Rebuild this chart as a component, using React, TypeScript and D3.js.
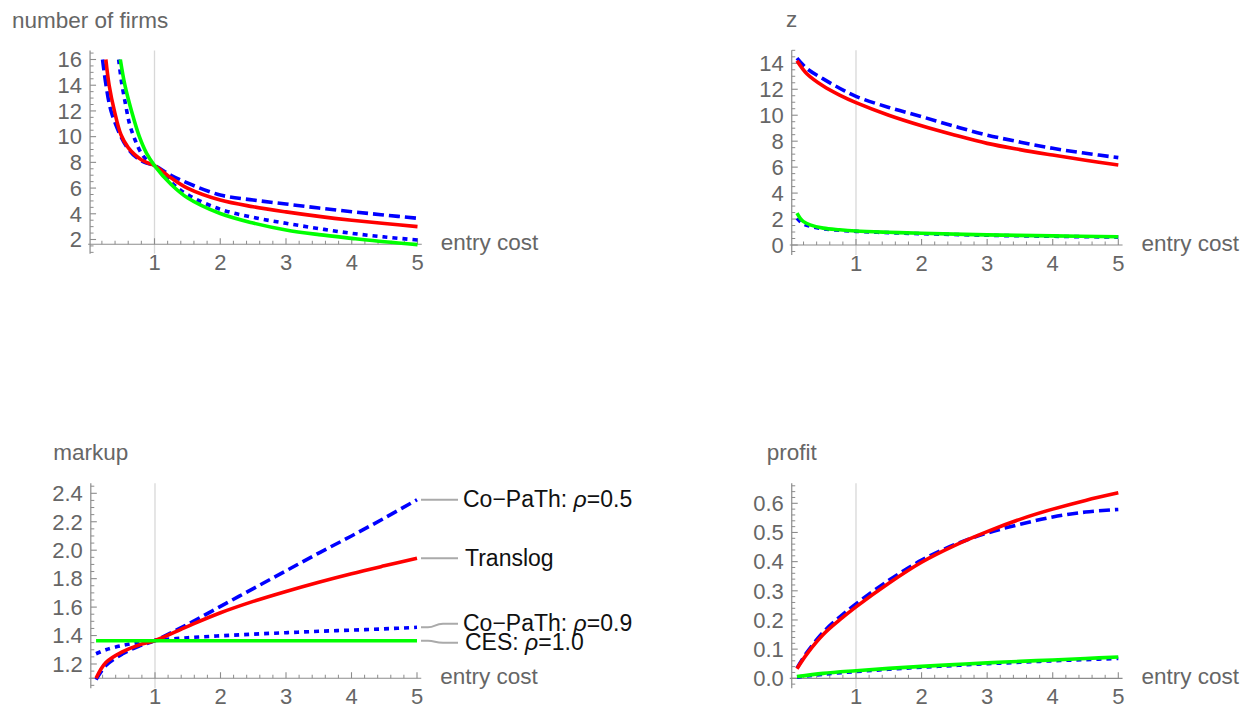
import React from "react";
import * as d3 from "d3";

type Pt = [number, number];

// ---------- data ----------
const entryCostTicks = [1, 2, 3, 4, 5];

// number of firms
const firmsCoPaTh05: Pt[] = [[0.21,16],[0.263,14],[0.339,12],[0.49,10.0],[0.6,9.05],[0.72,8.4],[0.85,8.0],[1,7.75],[1.25,7.0],[1.5,6.4],[2,5.46],[2.5,5.07],[3,4.76],[3.5,4.45],[4,4.16],[4.5,3.9],[5,3.65]];
const firmsTranslog: Pt[] = [[0.26,16],[0.31,14],[0.39,12],[0.49,10.15],[0.6,9.15],[0.7,8.6],[0.8,8.2],[0.9,7.95],[1,7.75],[1.25,6.8],[1.5,6.0],[2,5.07],[2.5,4.55],[3,4.15],[3.5,3.8],[4,3.5],[4.5,3.24],[5,3.0]];
const firmsCoPaTh09: Pt[] = [[0.455,16],[0.5,14.2],[0.56,12.5],[0.62,11],[0.7,9.8],[0.8,8.7],[0.9,8.1],[1,7.75],[1.25,6.45],[1.5,5.5],[2,4.35],[2.5,3.72],[3,3.26],[3.5,2.85],[4,2.48],[4.5,2.2],[5,1.96]];
const firmsCES: Pt[] = [[0.48,16],[0.55,14],[0.65,12],[0.77,10],[0.88,8.7],[1,7.75],[1.25,6.3],[1.5,5.25],[2,4.02],[2.5,3.28],[3,2.74],[3.5,2.38],[4,2.09],[4.5,1.82],[5,1.6]];

// z
const zCoPaTh05: Pt[] = [[0.1,14.4],[0.25,13.6],[0.5,12.8],[0.75,12.08],[1,11.45],[1.5,10.6],[2,9.89],[2.5,9.15],[3,8.47],[3.5,7.93],[4,7.45],[4.5,7.07],[5,6.73]];
const zTranslog: Pt[] = [[0.1,14.2],[0.25,13.2],[0.5,12.25],[0.75,11.55],[1,10.97],[1.5,10.0],[2,9.19],[2.5,8.48],[3,7.83],[3.5,7.35],[4,6.93],[4.5,6.53],[5,6.16]];
const zCoPaTh09: Pt[] = [[0.1,2.05],[0.15,1.8],[0.2,1.62],[0.3,1.45],[0.5,1.25],[0.75,1.13],[1,1.05],[1.5,0.95],[2,0.87],[3,0.75],[4,0.67],[5,0.61]];
const zCES: Pt[] = [[0.1,2.45],[0.15,2.05],[0.2,1.8],[0.3,1.55],[0.5,1.3],[0.75,1.17],[1,1.08],[1.5,0.98],[2,0.9],[3,0.78],[4,0.7],[5,0.64]];

// markup
const markupCoPaTh05: Pt[] = [[0.1,1.09],[0.25,1.19],[0.5,1.27],[0.75,1.325],[1,1.365],[1.5,1.48],[2,1.605],[2.5,1.73],[3,1.855],[3.5,1.98],[4,2.1],[4.5,2.225],[5,2.355]];
const markupTranslog: Pt[] = [[0.1,1.1],[0.25,1.21],[0.5,1.285],[0.75,1.333],[1,1.365],[1.5,1.465],[2,1.56],[2.5,1.64],[3,1.71],[3.5,1.775],[4,1.835],[4.5,1.89],[5,1.943]];
const markupCoPaTh09: Pt[] = [[0.1,1.272],[0.25,1.3],[0.5,1.33],[0.75,1.35],[1,1.365],[1.5,1.385],[2,1.398],[2.5,1.41],[3,1.42],[3.5,1.43],[4,1.438],[4.5,1.447],[5,1.458]];
const markupCES: Pt[] = [[0.1,1.363],[1,1.363],[2,1.363],[3,1.363],[4,1.363],[5,1.363]];

// profit
const profitCoPaTh05: Pt[] = [[0.1,0.035],[0.25,0.088],[0.5,0.158],[0.75,0.21],[1,0.255],[1.5,0.336],[2,0.405],[2.5,0.458],[3,0.498],[3.5,0.528],[4,0.553],[4.5,0.57],[5,0.579]];
const profitTranslog: Pt[] = [[0.1,0.033],[0.25,0.083],[0.5,0.15],[0.75,0.2],[1,0.245],[1.5,0.326],[2,0.398],[2.5,0.455],[3,0.503],[3.5,0.545],[4,0.58],[4.5,0.61],[5,0.636]];
const profitCoPaTh09: Pt[] = [[0.1,0.004],[0.5,0.014],[1,0.023],[1.5,0.031],[2,0.038],[2.5,0.044],[3,0.05],[3.5,0.055],[4,0.06],[4.5,0.064],[5,0.068]];
const profitCES: Pt[] = [[0.1,0.006],[0.5,0.017],[1,0.026],[1.5,0.034],[2,0.041],[2.5,0.047],[3,0.053],[3.5,0.058],[4,0.063],[4.5,0.068],[5,0.073]];

const legendLabels = ["Co\u2212PaTh: ", "Translog", "Co\u2212PaTh: ", "CES: "];
const legendRho = ["0.5", "", "0.9", "1.0"];

// ---------- styles ----------
const RED = "#ff0000";
const BLUE = "#0000ff";
const GREEN = "#00ff00";
const DASH = "11,5";
const DOT = "5,5";
const FONT = "'Liberation Sans', Arial, sans-serif";
const AXIS = "#8c8c8c";
const LABEL = "#666666";
const TICK_FS = 22;
const TITLE_FS = 22.5;
const LEGEND_FS = 23;

type Series = { data: Pt[]; color: string; dash?: string };

interface Panel {
  title: string;
  x1: number; x5: number; // pixel positions of x=1 and x=5
  yDom: [number, number]; yPix: [number, number];
  yExt: [number, number];
  xAxisAt: number;
  major: number; minor: number; decimals: number;
  series: Series[];
  legend?: boolean;
}

const panels: Panel[] = [
  {
    title: "number of firms", x1: 154.5, x5: 417.5,
    yDom: [2, 16], yPix: [239.5, 59.5], yExt: [0.9, 16.7], xAxisAt: 1.63,
    major: 2, minor: 0.5, decimals: 0,
    series: [
      { data: firmsCoPaTh05, color: BLUE, dash: DASH },
      { data: firmsCoPaTh09, color: BLUE, dash: DOT },
      { data: firmsTranslog, color: RED },
      { data: firmsCES, color: GREEN },
    ],
  },
  {
    title: "z", x1: 856, x5: 1118.3,
    yDom: [0, 14], yPix: [245, 63.3], yExt: [-0.77, 15.0], xAxisAt: 0,
    major: 2, minor: 0.5, decimals: 0,
    series: [
      { data: zCoPaTh05, color: BLUE, dash: DASH },
      { data: zCoPaTh09, color: BLUE, dash: DOT },
      { data: zTranslog, color: RED },
      { data: zCES, color: GREEN },
    ],
  },
  {
    title: "markup", x1: 155, x5: 417,
    yDom: [1.2, 2.4], yPix: [664, 493.3], yExt: [1.03, 2.47], xAxisAt: 1.1,
    major: 0.2, minor: 0.05, decimals: 1,
    series: [
      { data: markupCoPaTh05, color: BLUE, dash: DASH },
      { data: markupCoPaTh09, color: BLUE, dash: DOT },
      { data: markupTranslog, color: RED },
      { data: markupCES, color: GREEN },
    ],
    legend: true,
  },
  {
    title: "profit", x1: 856, x5: 1118.3,
    yDom: [0, 0.6], yPix: [678.3, 503.3], yExt: [-0.034, 0.669], xAxisAt: 0,
    major: 0.1, minor: 0.02, decimals: 1,
    series: [
      { data: profitCoPaTh05, color: BLUE, dash: DASH },
      { data: profitCoPaTh09, color: BLUE, dash: DOT },
      { data: profitTranslog, color: RED },
      { data: profitCES, color: GREEN },
    ],
  },
];

const X_EXT: [number, number] = [-0.01, 5.065];
const Y_AXIS_AT = 0.02;

function gridValues(ext: [number, number], step: number): number[] {
  const out: number[] = [];
  const k0 = Math.ceil(ext[0] / step - 1e-9);
  const k1 = Math.floor(ext[1] / step + 1e-9);
  for (let k = k0; k <= k1; k++) out.push(+(k * step).toFixed(6));
  return out;
}
const isMultiple = (v: number, step: number) => Math.abs(v / step - Math.round(v / step)) < 1e-6;

function PanelView({ p }: { p: Panel }) {
  const x = d3.scaleLinear().domain([1, 5]).range([p.x1, p.x5]);
  const y = d3.scaleLinear().domain(p.yDom).range(p.yPix);
  const ax = x(Y_AXIS_AT);
  const ay = y(p.xAxisAt);
  const line = d3.line<Pt>().x(d => x(d[0])).y(d => y(d[1])).curve(d3.curveCatmullRom.alpha(0.5));

  const yMajors = gridValues(p.yExt, p.major).filter(v => v >= p.yDom[0] - 1e-9);
  const yMinors = gridValues(p.yExt, p.minor).filter(v => !isMultiple(v, p.major));
  const xMinors = gridValues([0.1, X_EXT[1]], 0.2).filter(v => !isMultiple(v, 1));

  const yTop = y(p.yExt[1]);
  const yBot = y(p.yExt[0]);

  return (
    <g>
      {/* vertical reference line at entry cost = 1 */}
      <line x1={x(1)} x2={x(1)} y1={yTop} y2={yBot} stroke="#d8d8d8" strokeWidth={1.3} />
      {/* axes */}
      <line x1={x(X_EXT[0])} x2={x(X_EXT[1])} y1={ay} y2={ay} stroke={AXIS} strokeWidth={1.2} />
      <line x1={ax} x2={ax} y1={yTop} y2={yBot} stroke={AXIS} strokeWidth={1.2} />
      {xMinors.map(v => (
        <line key={"xm" + v} x1={x(v)} x2={x(v)} y1={ay} y2={ay - 3.5} stroke={AXIS} strokeWidth={1} />
      ))}
      {entryCostTicks.map(v => (
        <g key={"xM" + v}>
          <line x1={x(v)} x2={x(v)} y1={ay} y2={ay - 6} stroke={AXIS} strokeWidth={1.1} />
          <text x={x(v)} y={ay + 26} textAnchor="middle" fontSize={TICK_FS} fill={LABEL} fontFamily={FONT}>{v}</text>
        </g>
      ))}
      {yMinors.map(v => (
        <line key={"ym" + v} x1={ax} x2={ax + 3.5} y1={y(v)} y2={y(v)} stroke={AXIS} strokeWidth={1} />
      ))}
      {yMajors.map(v => (
        <g key={"yM" + v}>
          <line x1={ax} x2={ax + 6} y1={y(v)} y2={y(v)} stroke={AXIS} strokeWidth={1.1} />
          <text x={ax - 8} y={y(v) + 7.8} textAnchor="end" fontSize={TICK_FS} fill={LABEL} fontFamily={FONT}>{v.toFixed(p.decimals)}</text>
        </g>
      ))}
      {/* axis titles */}
      <text x={ax} y={yTop - 23} textAnchor="middle" fontSize={TITLE_FS} fill={LABEL} fontFamily={FONT}>{p.title}</text>
      <text x={x(X_EXT[1]) + 19} y={ay + 5.5} fontSize={TITLE_FS} fill={LABEL} fontFamily={FONT}>entry cost</text>
      {/* curves */}
      {p.series.map((s, i) => (
        <path key={"s" + i} d={line(s.data) || ""} fill="none" stroke={s.color} strokeWidth={3.6}
          strokeDasharray={s.dash} strokeLinecap="butt" strokeLinejoin="round" />
      ))}
      {p.legend && <Legend p={p} x={x} y={y} />}
    </g>
  );
}

function Legend({ p, x, y }: { p: Panel; x: d3.ScaleLinear<number, number>; y: d3.ScaleLinear<number, number> }) {
  // label order: CoPaTh0.5, Translog, CoPaTh0.9, CES
  const order = [0, 2, 1, 3];
  const shifts = [0, 0, -3.5, 2];
  const textX = 463;
  return (
    <g>
      {order.map((si, li) => {
        const d = p.series[si].data;
        const last = d[d.length - 1];
        const x0 = x(last[0]) + 4;
        const y0 = y(last[1]);
        const y1 = y0 + shifts[li];
        const path = `M${x0},${y0} L${x0 + 7},${y0} C${x0 + 14},${y0} ${x0 + 14},${y1} ${x0 + 22},${y1} L${textX - 5},${y1}`;
        return (
          <g key={"lg" + li}>
            <path d={path} fill="none" stroke="#aaaaaa" strokeWidth={2} />
            <text x={textX + (li === 1 || li === 3 ? 2 : 0)} y={y1 + 7.5} fontSize={LEGEND_FS} fill="#111" fontFamily={FONT}>
              {legendLabels[li]}
              {legendRho[li] && <tspan fontStyle="italic">ρ</tspan>}
              {legendRho[li] && <tspan>={legendRho[li]}</tspan>}
            </text>
          </g>
        );
      })}
    </g>
  );
}

export default function App() {
  return (
    <svg width={1244} height={706} style={{ position: "absolute", left: 0, top: 0, background: "#fff" }}>
      <rect width={1244} height={706} fill="#fff" />
      {panels.map((p, i) => <PanelView key={i} p={p} />)}
    </svg>
  );
}
